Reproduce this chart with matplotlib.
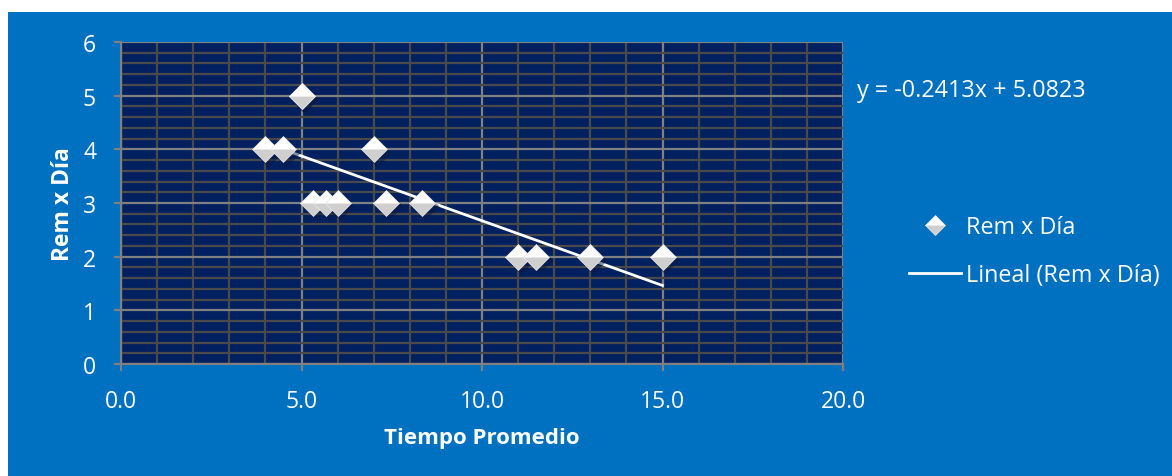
'''
    @Title: Rem x Día vs Tiempo Promedio scatter with linear trendline.
'''

# Importing necessary libraries
import matplotlib
matplotlib.use("Agg")
import matplotlib.pyplot as plt
from matplotlib.patches import Rectangle
from matplotlib.lines import Line2D
from matplotlib.ticker import MultipleLocator, FormatStrFormatter

# Data
tiempo = [4.0, 4.5, 5.0, 5.0, 7.0, 5.33, 5.67, 6.0, 7.33, 8.33, 11.0, 11.5, 13.0, 15.0]
rem_dia = [4, 4, 5, 5, 4, 3, 3, 3, 3, 3, 2, 2, 2, 2]
slope = -0.2413
intercept = 5.0823
equation = "y = -0.2413x + 5.0823"
series_name = "Rem x Día"
trend_name = "Lineal (Rem x Día)"
x_label = "Tiempo Promedio"
y_label = "Rem x Día"

OUTER_BLUE = "#0070c0"
NAVY = "#002060"
MAJOR_GRID = "#808080"
MINOR_GRID = "#4a4a4a"
FONT = ["Open Sans", "DejaVu Sans"]


def create_chart():
    """
    Description:
    Draw the scatter chart with its trendline and save it as out.png.
    """
    plt.rcParams['font.family'] = FONT
    fig = plt.figure(figsize=(11.72, 4.77), dpi=100, facecolor="white")

    # Blue chart area (image is cropped on the top and left)
    fig.add_artist(Rectangle((8 / 1172, 0), 1, 1 - 13 / 477,
                             transform=fig.transFigure,
                             facecolor=OUTER_BLUE, edgecolor="none", zorder=-5))

    ax = fig.add_axes([121 / 1172, 1 - 365 / 477, (843 - 121) / 1172, (365 - 43) / 477])
    ax.set_facecolor(NAVY)
    ax.set_xlim(0, 20)
    ax.set_ylim(0, 6)

    ax.xaxis.set_major_locator(MultipleLocator(5))
    ax.xaxis.set_minor_locator(MultipleLocator(1))
    ax.yaxis.set_major_locator(MultipleLocator(1))
    ax.yaxis.set_minor_locator(MultipleLocator(0.2))
    ax.xaxis.set_major_formatter(FormatStrFormatter("%.1f"))

    ax.grid(which="minor", color=MINOR_GRID, linewidth=1.6, zorder=1)
    ax.grid(which="major", color=MAJOR_GRID, linewidth=1.6, zorder=1)
    ax.set_axisbelow(True)

    for side in ["top", "right"]:
        ax.spines[side].set_visible(False)
    for side in ["left", "bottom"]:
        ax.spines[side].set_color(MAJOR_GRID)
        ax.spines[side].set_linewidth(1.6)

    ax.tick_params(which="major", length=5, width=1.6, color=MAJOR_GRID,
                   labelcolor="white", labelsize=16.5)
    ax.tick_params(axis="x", which="major", pad=13)
    ax.tick_params(axis="y", which="major", pad=13)
    ax.tick_params(which="minor", length=0)

    # Trendline from min x to max x
    x0, x1 = min(tiempo), max(tiempo)
    ax.plot([x0, x1], [slope * x0 + intercept, slope * x1 + intercept],
            color="white", linewidth=2, zorder=3)

    # Shadow and 3D-ish diamond markers
    ax.plot([t + 0.08 for t in tiempo], [r - 0.06 for r in rem_dia], linestyle="none",
            marker="D", markersize=14.5, markerfacecolor="#0a1a40",
            markeredgecolor="none", alpha=0.5, zorder=4)
    ax.plot(tiempo, rem_dia, linestyle="none", marker="D", markersize=13.5,
            fillstyle="bottom", markerfacecolor="#cfcfcf",
            markerfacecoloralt="white", markeredgecolor="#e8e8e8",
            markeredgewidth=0.5, zorder=5)

    ax.set_xlabel(x_label, color="white", fontsize=16, fontweight="bold", labelpad=10)
    ax.set_ylabel(y_label, color="white", fontsize=16.5, fontweight="bold", labelpad=6)

    # Trendline equation
    fig.text(857 / 1172, 1 - 91 / 477, equation, color="white", fontsize=16.8,
             va="center", ha="left")

    # Legend
    handles = [
        Line2D([], [], linestyle="none", marker="D", markersize=10.5, fillstyle="bottom",
               markerfacecolor="#cfcfcf", markerfacecoloralt="white",
               markeredgecolor="#e8e8e8", markeredgewidth=0.5),
        Line2D([], [], color="white", linewidth=2),
    ]
    fig.legend(handles, [series_name, trend_name], loc="center left",
               bbox_to_anchor=(888 / 1172, 1 - 252 / 477), frameon=False,
               labelcolor="white", fontsize=16.8, handlelength=2.25,
               handletextpad=0.2, labelspacing=1.0)

    fig.savefig("out.png", dpi=100, facecolor="white")


def main():
    create_chart()


if __name__ == "__main__":
    main()
